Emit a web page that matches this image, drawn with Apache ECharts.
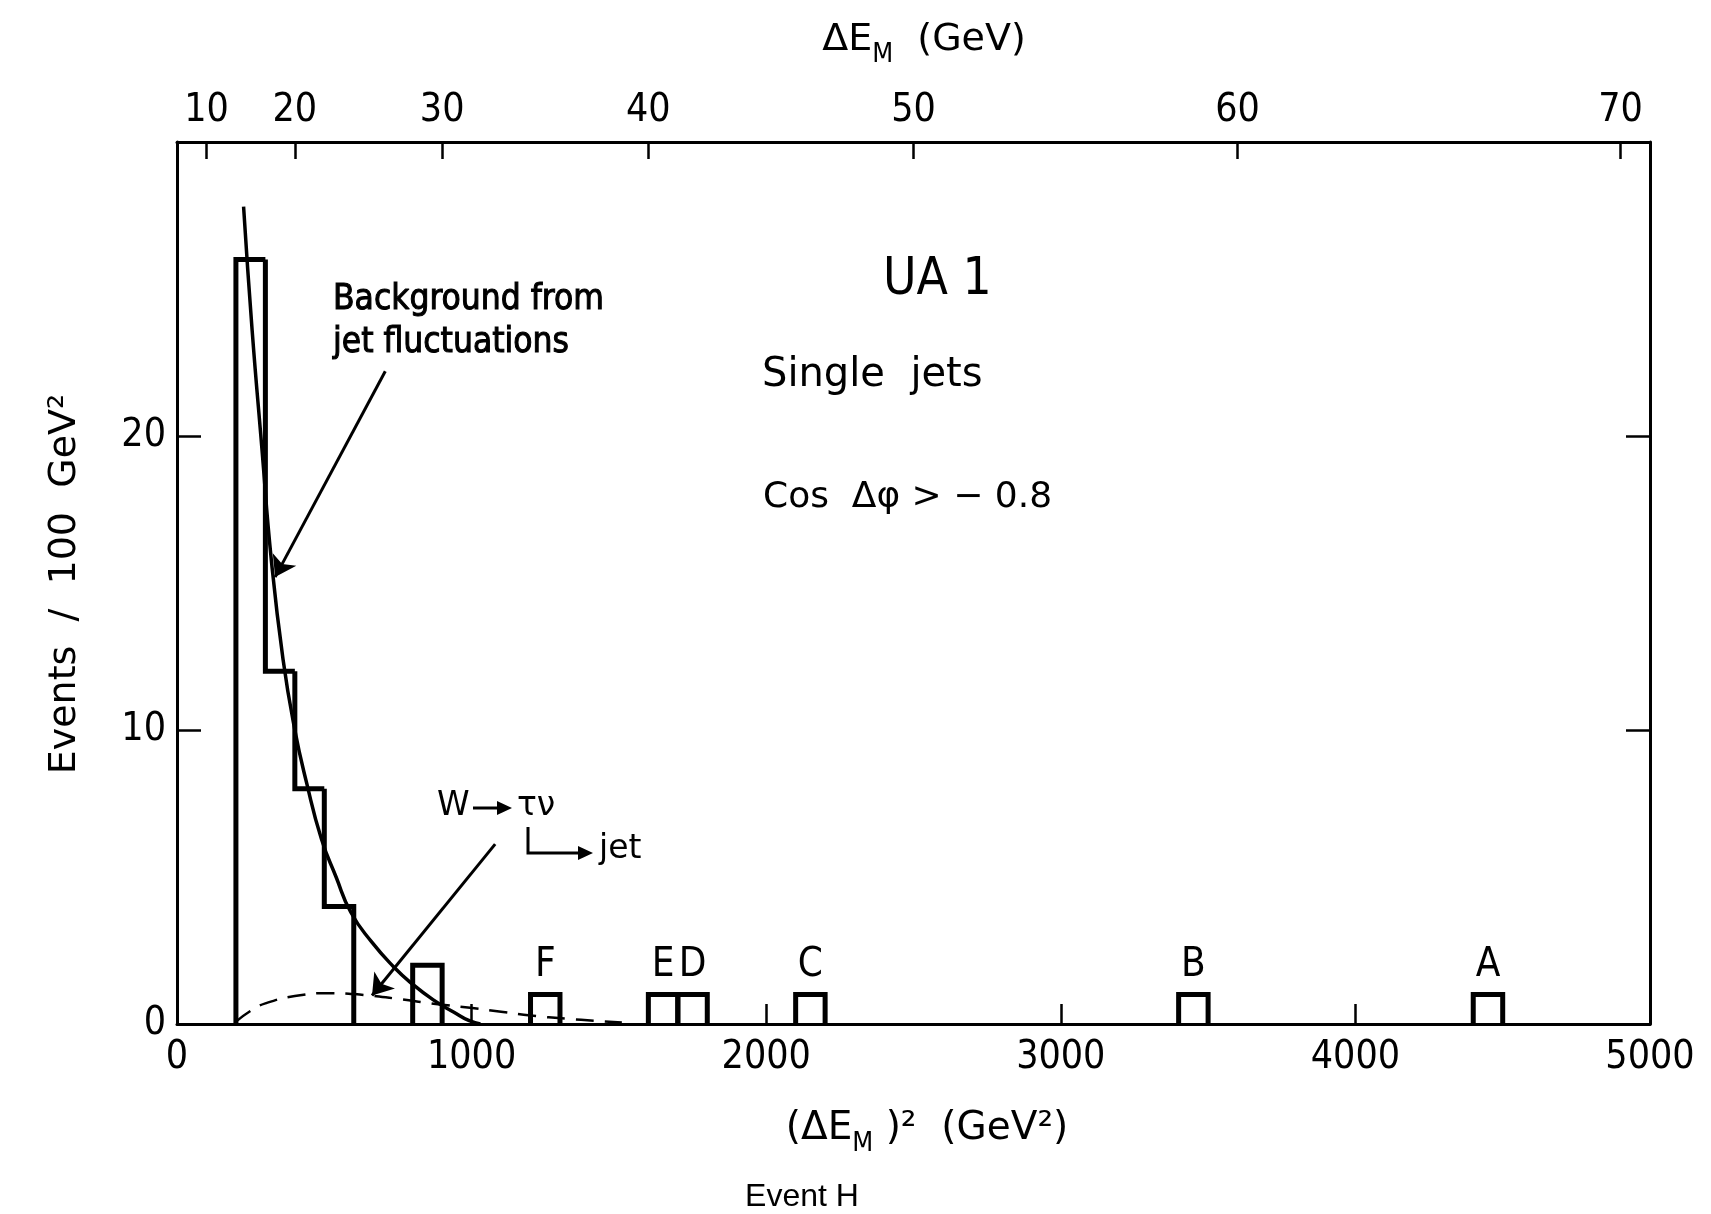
<!DOCTYPE html>
<html><head><meta charset="utf-8">
<script src="https://cdn.jsdelivr.net/npm/echarts@6/dist/echarts.min.js"></script>
<style>html,body{margin:0;padding:0;background:#fff}#c{width:1711px;height:1214px}</style>
</head><body><div id="c"></div>
<script>
// ---- data (GeV^2 bins of width 100) ----
const binWidth = 100;
const histLow = [200, 300, 400, 500, 800];
const histCounts = [26, 12, 8, 4, 2];
const eventNames = ['F', 'E', 'D', 'C', 'B', 'A'];
const eventBinLow = [1200, 1600, 1700, 2100, 3400, 4400];
const eventCounts = [1, 1, 1, 1, 1, 1];
// background from jet fluctuations (solid curve)
const bgCurveX = [226, 255, 288, 320, 360, 400, 440, 490, 540, 590, 660, 735, 800, 870, 940, 990, 1030];
const bgCurveY = [27.8, 23.6, 19.6, 15.8, 12.4, 10.0, 8.2, 6.3, 5.0, 3.8, 2.8, 1.95, 1.35, 0.82, 0.4, 0.12, 0];
// W -> tau nu (dashed curve)
const wCurveX = [200, 250, 300, 400, 520, 620, 746, 871, 995, 1100, 1200, 1323, 1420, 1510];
const wCurveY = [0.08, 0.45, 0.7, 0.95, 1.05, 1.0, 0.86, 0.69, 0.55, 0.42, 0.29, 0.18, 0.11, 0.05];
// axes
const xTicks = [0, 1000, 2000, 3000, 4000, 5000];
const topTickGeV = [10, 20, 30, 40, 50, 60, 70];
const yTicks = [0, 10, 20];
const yInnerTicks = [10, 20];

const FN = "'Liberation Sans Narrow', 'DejaVu Sans Condensed', 'Liberation Sans', sans-serif";
const FW = "'DejaVu Sans', sans-serif";

const histData = histLow.map((lo, i) => {
  const adjPrev = i > 0 && histLow[i - 1] + binWidth === lo;
  const adjNext = i < histLow.length - 1 && histLow[i + 1] === lo + binWidth;
  return [lo, lo + binWidth, histCounts[i], adjPrev ? histCounts[i - 1] : 0, adjNext ? 0 : 1];
});
const eventData = eventBinLow.map((lo, i) => [lo, lo + binWidth, eventCounts[i], 0, 1]);

function outline(api) {
  const lo = api.value(0), hi = api.value(1), h = api.value(2), prev = api.value(3), close = api.value(4);
  const pts = [api.coord([lo, prev]), api.coord([lo, h]), api.coord([hi, h])];
  if (close) pts.push(api.coord([hi, 0]));
  return {type: 'polyline', shape: {points: pts},
    style: {stroke: '#000', lineWidth: 5, fill: null, lineJoin: 'miter'}};
}

const axisLineStyle = {onZero: false, lineStyle: {color: '#000', width: 3}};
const tickStyle = {color: '#000', width: 2.5};
const chart = echarts.init(document.getElementById('c'));
chart.setOption({
  animation: false,
  backgroundColor: '#fff',
  grid: {left: 177, right: 61, top: 142, bottom: 190, outerBoundsMode: 'none'},
  xAxis: [
    {type: 'value', position: 'bottom', min: 0, max: 5000, interval: 1000,
      axisLine: axisLineStyle, splitLine: {show: false},
      axisTick: {inside: true, length: 20, lineStyle: tickStyle, customValues: xTicks},
      axisLabel: {customValues: xTicks, color: '#000', fontFamily: FN, fontSize: 39, margin: 14,
        formatter: v => String(v)}},
    {type: 'value', position: 'top', min: 0, max: 5000,
      axisLine: axisLineStyle, splitLine: {show: false},
      axisTick: {inside: true, length: 17, lineStyle: tickStyle, customValues: topTickGeV.map(v => v * v)},
      axisLabel: {customValues: topTickGeV.map(v => v * v), color: '#000', fontFamily: FN, fontSize: 39, margin: 12,
        formatter: v => String(Math.round(Math.sqrt(v)))}}
  ],
  yAxis: [
    {type: 'value', position: 'left', min: 0, max: 30, interval: 10,
      axisLine: axisLineStyle, splitLine: {show: false},
      axisTick: {inside: true, length: 24, lineStyle: tickStyle, customValues: yInnerTicks},
      axisLabel: {customValues: yTicks, color: '#000', fontFamily: FN, fontSize: 39, margin: 11}},
    {type: 'value', position: 'right', min: 0, max: 30, interval: 10,
      axisLine: axisLineStyle, splitLine: {show: false},
      axisTick: {inside: true, length: 24, lineStyle: tickStyle, customValues: yInnerTicks},
      axisLabel: {show: false}}
  ],
  series: [
    {type: 'custom', name: 'hist', xAxisIndex: 0, yAxisIndex: 0, encode: {x: [0, 1], y: 2},
      data: histData, renderItem: (p, api) => outline(api), z: 3},
    {type: 'custom', name: 'events', xAxisIndex: 0, yAxisIndex: 0, encode: {x: [0, 1], y: 2},
      data: eventData, z: 3,
      renderItem: (p, api) => {
        const top = api.coord([(api.value(0) + api.value(1)) / 2, api.value(2)]);
        return {type: 'group', children: [outline(api),
          {type: 'text', x: top[0], y: top[1] - 9,
            style: {text: eventNames[p.dataIndex], fill: '#000', fontFamily: FN, fontSize: 40,
              align: 'center', verticalAlign: 'bottom'}}]};
      }},
    {type: 'line', name: 'bg', data: bgCurveX.map((x, i) => [x, bgCurveY[i]]),
      smooth: 0.5, symbol: 'none', lineStyle: {color: '#000', width: 3.5}, z: 4,
      markLine: {silent: true, symbol: ['none', 'arrow'], symbolSize: 20, animation: false,
        lineStyle: {color: '#000', width: 3, type: 'solid'}, label: {show: false},
        data: [[{coord: [707, 22.2]}, {coord: [333, 15.2]}],
               [{coord: [1080, 6.12]}, {coord: [662, 0.97]}]]}},
    {type: 'line', name: 'w', data: wCurveX.map((x, i) => [x, wCurveY[i]]),
      smooth: 0.5, symbol: 'none',
      lineStyle: {color: '#000', width: 2.5, type: [18, 11]}, z: 4}
  ],
  graphic: [
    {type: 'text', x: 924, y: 40, style: {text: '{a|ΔE}{s|M}{a|  (GeV)}', align: 'center', verticalAlign: 'middle',
      rich: {a: {fontFamily: FW, fontSize: 38, lineHeight: 56, fill: '#000'},
             s: {fontFamily: FN, fontSize: 27, lineHeight: 27, verticalAlign: 'bottom', fill: '#000'}}}},
    {type: 'text', x: 927, y: 1129, style: {text: '{a|(ΔE}{s|M}{a| )²  (GeV²)}', align: 'center', verticalAlign: 'middle',
      rich: {a: {fontFamily: FW, fontSize: 39, lineHeight: 56, fill: '#000'},
             s: {fontFamily: FN, fontSize: 27, lineHeight: 27, verticalAlign: 'bottom', fill: '#000'}}}},
    {type: 'text', x: 65, y: 584, rotation: Math.PI / 2,
      style: {text: 'Events  /  100  GeV²', align: 'center', verticalAlign: 'middle', fill: '#000', fontFamily: FW, fontSize: 38}},
    {type: 'text', x: 802, y: 1197,
      style: {text: 'Event H', align: 'center', verticalAlign: 'middle', fill: '#000', fontFamily: "'Liberation Sans', sans-serif", fontSize: 32}},
    {type: 'text', x: 333, y: 300,
      style: {text: 'Background from', align: 'left', verticalAlign: 'middle', fill: '#000', stroke: '#000', lineWidth: 1,
        fontFamily: FN, fontSize: 35}},
    {type: 'text', x: 333, y: 343,
      style: {text: 'jet fluctuations', align: 'left', verticalAlign: 'middle', fill: '#000', stroke: '#000', lineWidth: 1,
        fontFamily: FN, fontSize: 35}},
    {type: 'text', x: 883, y: 281,
      style: {text: 'UA 1', align: 'left', verticalAlign: 'middle', fill: '#000', fontFamily: FN, fontSize: 51}},
    {type: 'text', x: 762, y: 376,
      style: {text: 'Single  jets', align: 'left', verticalAlign: 'middle', fill: '#000', fontFamily: FW, fontSize: 40}},
    {type: 'text', x: 763, y: 498,
      style: {text: 'Cos  Δφ > − 0.8', align: 'left', verticalAlign: 'middle', fill: '#000', fontFamily: FW, fontSize: 36}},
    {type: 'text', x: 437, y: 806,
      style: {text: 'W', align: 'left', verticalAlign: 'middle', fill: '#000', fontFamily: FW, fontSize: 33}},
    {type: 'line', shape: {x1: 473, y1: 808, x2: 500, y2: 808}, style: {stroke: '#000', lineWidth: 3}},
    {type: 'polygon', shape: {points: [[497, 801], [512, 808], [497, 815]]}, style: {fill: '#000'}},
    {type: 'text', x: 517, y: 806,
      style: {text: 'τν', align: 'left', verticalAlign: 'middle', fill: '#000', fontFamily: FW, fontSize: 33}},
    {type: 'polyline', shape: {points: [[528, 827], [528, 853], [580, 853]]}, style: {stroke: '#000', lineWidth: 3, fill: null}},
    {type: 'polygon', shape: {points: [[578, 846], [593, 853], [578, 860]]}, style: {fill: '#000'}},
    {type: 'text', x: 599, y: 849,
      style: {text: 'jet', align: 'left', verticalAlign: 'middle', fill: '#000', fontFamily: FW, fontSize: 33}}
  ]
});
</script></body></html>
